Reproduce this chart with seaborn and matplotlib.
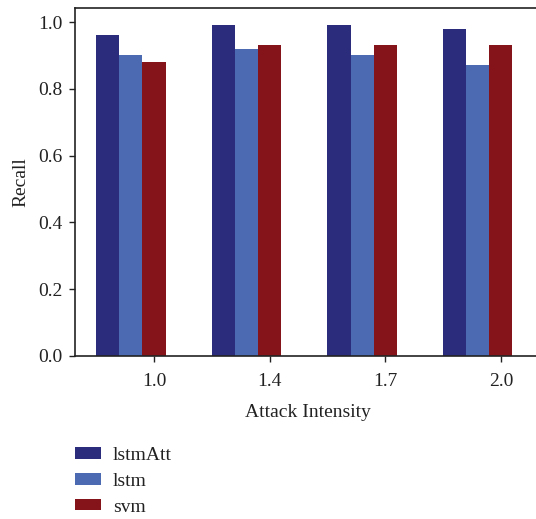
import matplotlib
matplotlib.use("Agg")
import matplotlib.pyplot as plt
import seaborn as sns
import pandas as pd
from matplotlib.patches import Patch

intensities = ["1.0", "1.4", "1.7", "2.0"]
models = ["lstmAtt", "lstm", "svm"]
lstmAtt = [0.96, 0.99, 0.99, 0.98]
lstm = [0.90, 0.92, 0.90, 0.87]
svm = [0.88, 0.93, 0.93, 0.93]
colors = ["#2B2C7C", "#4B6AB2", "#84141A"]

rows = []
for name, vals in zip(models, [lstmAtt, lstm, svm]):
    for cat, v in zip(intensities, vals):
        rows.append({"Attack Intensity": cat, "model": name, "Recall": v})
df = pd.DataFrame(rows)

sns.set_style("ticks")
plt.rcParams["font.family"] = ["Liberation Serif", "DejaVu Serif"]

fig = plt.figure(figsize=(5.36, 5.19), dpi=100)
ax = fig.add_axes([75 / 536, 163 / 519, 1.0 - 75 / 536 + 0.01, (356 - 8) / 519])
sns.barplot(data=df, x="Attack Intensity", y="Recall", hue="model",
            hue_order=models, palette=colors, width=0.6, saturation=1,
            ax=ax, legend=False, linewidth=0)

ax.set_xlim(-0.483, 3.55)
ax.set_ylim(0, 1.042)
ax.set_yticks([0.0, 0.2, 0.4, 0.6, 0.8, 1.0])
ax.set_yticklabels(["0.0", "0.2", "0.4", "0.6", "0.8", "1.0"], fontsize=14)
ax.set_xticks([i + 0.2 for i in range(len(intensities))])
ax.set_xticklabels(intensities, fontsize=14)
ax.tick_params(axis="both", length=4, width=1, color="#222222", labelcolor="#222222")
ax.tick_params(axis="x", pad=8)
ax.tick_params(axis="y", pad=5)
ax.set_xlabel("Attack Intensity", fontsize=14, color="#222222", labelpad=10)
ax.set_ylabel("Recall", fontsize=14, color="#222222", labelpad=6)
for s in ["left", "bottom", "top"]:
    ax.spines[s].set_color("#222222")
    ax.spines[s].set_linewidth(1.2)
ax.spines["right"].set_visible(False)

handles = [Patch(facecolor=c, edgecolor="none", label=m) for c, m in zip(colors, models)]
fig.legend(handles=handles, loc="upper left", bbox_to_anchor=(75 / 536, 1 - 447 / 519),
           frameon=False, fontsize=14, handlelength=1.35, handleheight=0.55,
           labelspacing=0.45, handletextpad=0.6, borderpad=0, borderaxespad=0,
           labelcolor="#222222")

fig.savefig("out.png", dpi=100)
